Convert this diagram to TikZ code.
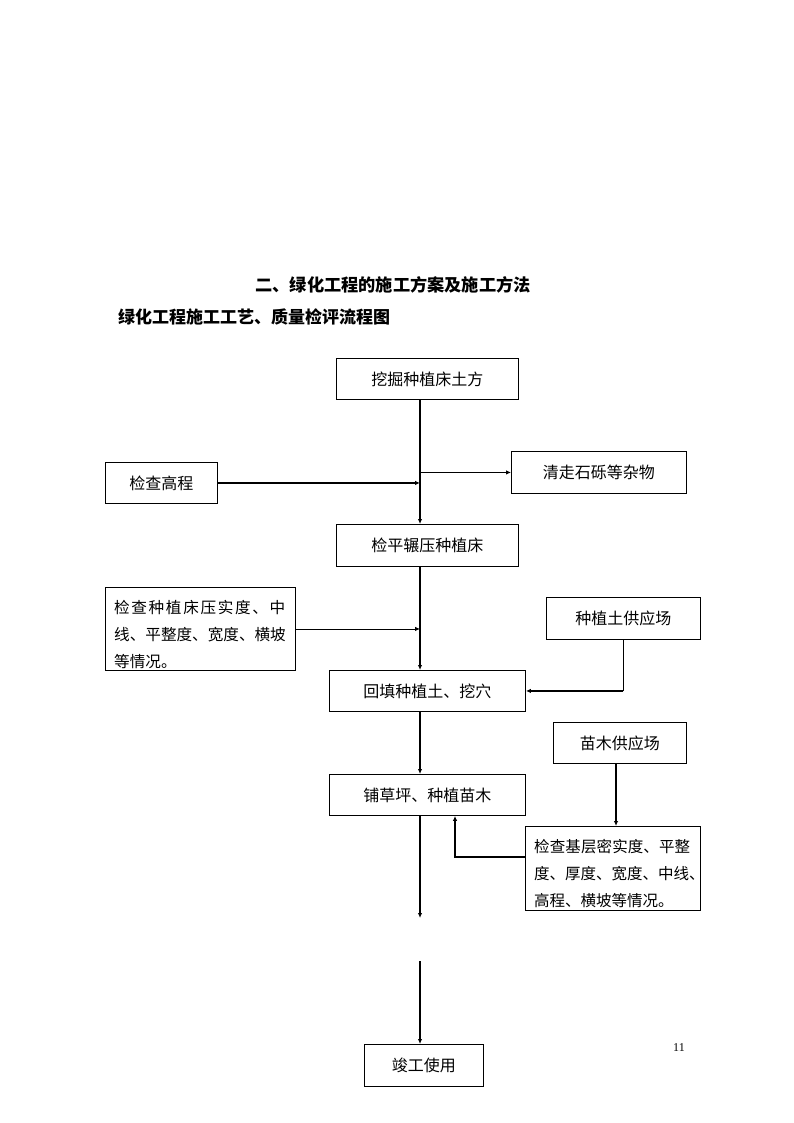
\documentclass[tikz,border=0pt]{standalone}
\usepackage{fontspec}
\setmainfont{Liberation Serif}
\newfontfamily\cjk{Noto Sans CJK SC}
\usetikzlibrary{arrows.meta,calc}
\newcommand{\spreadline}[2]{\makebox[#1][s]{#2}}
\begin{document}
\begin{tikzpicture}[x=1pt,y=-1pt,
  box/.style={draw,line width=0.9pt,inner sep=0pt,anchor=north west,font=\cjk\fontsize{16}{16}\selectfont},
  thickline/.style={line width=1.8pt},
  thinline/.style={line width=0.9pt},
  tip/.style={-{Latex[length=5pt,width=4.5pt]}}
]
\useasboundingbox (0,0) rectangle (794,1123);
% titles
\node[font=\cjk\bfseries\fontsize{17.2}{17.2}\selectfont] (t1) at (393,285) {二、绿化工程的施工方案及施工方法};
\node[font=\cjk\bfseries\fontsize{17}{17}\selectfont,anchor=west,inner sep=0pt] (t2) at (118,317) {绿化工程施工工艺、质量检评流程图};
% boxes
\node[box,minimum width=182pt,minimum height=41pt] (a1) at (336,358) {挖掘种植床土方};
\node[box,minimum width=112pt,minimum height=41pt] (b) at (105,462) {检查高程};
\node[box,minimum width=175pt,minimum height=42pt] (c) at (511,451) {清走石砾等杂物};
\node[box,minimum width=182pt,minimum height=42pt] (a2) at (336,524) {检平辗压种植床};
\node[box,minimum width=190pt,minimum height=83pt] (d) at (105,587) {};
\begin{scope}
  \clip (d.north west) rectangle (d.south east);
  \node[anchor=north west,inner sep=0pt,align=left,font=\cjk\fontsize{15.6}{27}\selectfont] (dt) at (114,600) {\spreadline{171pt}{检\hfill 查\hfill 种\hfill 植\hfill 床\hfill 压\hfill 实\hfill 度\hfill 、\hfill 中}\\线、平整度、宽度、横坡\\等情况。};
\end{scope}
\node[box,minimum width=154pt,minimum height=42pt] (e) at (546,597) {种植土供应场};
\node[box,minimum width=196pt,minimum height=41pt] (a3) at (329,670) {回填种植土、挖穴};
\node[box,minimum width=133pt,minimum height=41pt] (f) at (553,722) {苗木供应场};
\node[box,minimum width=196pt,minimum height=41pt] (a4) at (329,774) {铺草坪、种植苗木};
\node[box,minimum width=175pt,minimum height=84pt] (g) at (525,826) {};
\begin{scope}
  \clip (g.north west) rectangle (g.south east);
  \node[anchor=north west,inner sep=0pt,align=left,font=\cjk\fontsize{15.5}{27}\selectfont] (gt) at (534,839) {\spreadline{156pt}{检\hfill 查\hfill 基\hfill 层\hfill 密\hfill 实\hfill 度\hfill 、\hfill 平\hfill 整}\\度、厚度、宽度、中线、\\高程、横坡等情况。};
\end{scope}
\node[box,minimum width=119pt,minimum height=42pt] (h) at (364,1044) {竣工使用};
\node[font=\fontsize{12}{12}\selectfont] (pg) at (679,1048) {11};
% helper coordinates
\coordinate (X) at (420,0);
\coordinate (gap1) at (420,918);
\coordinate (gap2) at (420,961);
\coordinate (fx) at (616,0);
\coordinate (gy) at (0,857);
\coordinate (bx) at (455,0);
% connectors
\draw[thickline,tip] (X |- a1.south) -- (X |- a2.north);
\draw[thickline,tip] (b.east) -- (X |- b.east);
\draw[thinline,tip] (X |- c.west) -- (c.west);
\draw[thickline,tip] (X |- a2.south) -- (X |- a3.north);
\draw[thinline,tip] (d.east) -- (X |- d.east);
\draw[thinline] (e.south) -- (e.south |- a3.east);
\draw[thickline,tip] (e.south |- a3.east) -- (a3.east);
\draw[thickline,tip] (X |- a3.south) -- (X |- a4.north);
\draw[thickline,tip] (fx |- f.south) -- (fx |- g.north);
\draw[thickline,tip] (g.west |- gy) -- (bx |- gy) -- (bx |- a4.south);
\draw[thickline,tip] (X |- a4.south) -- (gap1);
\draw[thickline,tip] (gap2) -- (X |- h.north);
\end{tikzpicture}
\end{document}
